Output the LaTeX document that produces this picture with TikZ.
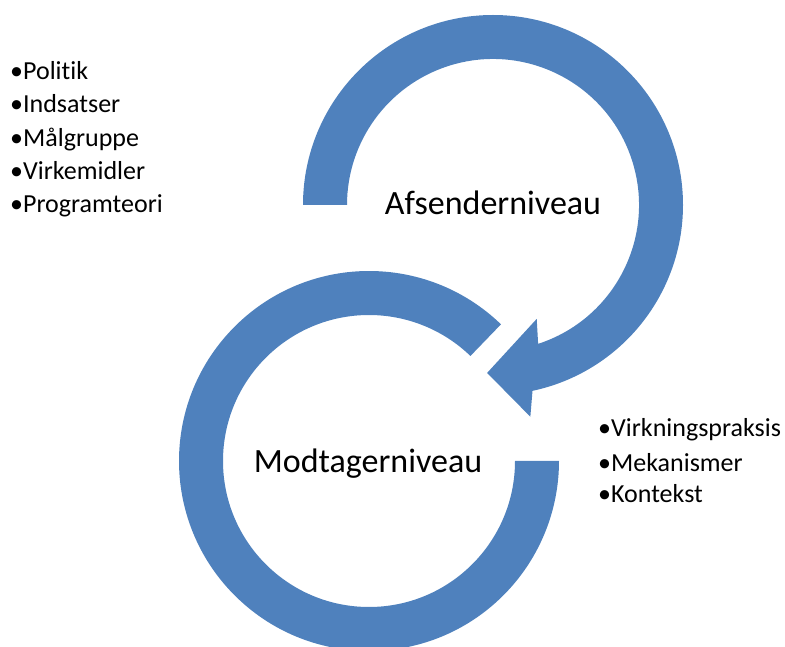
\documentclass[tikz,border=0pt]{standalone}
\usepackage{fontspec}
\setmainfont{Carlito}[Ligatures=NoCommon]
\usepackage{xcolor}
\definecolor{ringblaa}{RGB}{79,129,189}
\usetikzlibrary{calc}

\begin{document}
\begin{tikzpicture}[x=1pt, y=1pt,
    ring/.style={fill=ringblaa, draw=none},
    niveau/.style={font=\fontsize{34}{40}\selectfont, inner sep=0pt, anchor=base},
    punkt/.style={font=\fontsize{26}{31}\selectfont, inner sep=0pt, anchor=base west}]
    \useasboundingbox (0,0) rectangle (785,646);
    \clip (0,0) rectangle (785,646);

    % Centre for de to ringe
    \coordinate (ctop) at (493,441);
    \coordinate (cbund) at (369,185);

    % Oeverste ring med pil
    \fill[ring] ($(ctop)+(180:190)$) arc[start angle=180, end angle=-78, radius=190]
        -- ($(ctop)+(-80:215)$) -- ($(ctop)+(-92:168)$) -- ($(ctop)+(-69:122)$)
        -- ($(ctop)+(-72:146)$) arc[start angle=-72, end angle=180, radius=146] -- cycle;

    % Nederste ring
    \fill[ring] ($(cbund)+(46:190)$) arc[start angle=46, end angle=360, radius=190]
        -- ($(cbund)+(0:146)$) arc[start angle=360, end angle=46, radius=146] -- cycle;

    % Niveauer
    \node[niveau] (afsender) at (493,431) {Afsenderniveau};
    \node[niveau] (modtager) at (368,173) {Modtagerniveau};

    % Punkter til venstre
    \node[punkt] (politik) at (10,566) {•Politik};
    \node[punkt] (indsatser) at (10,533) {•Indsatser};
    \node[punkt] (maalgruppe) at (10,499) {•Målgruppe};
    \node[punkt] (virkemidler) at (10,466) {•Virkemidler};
    \node[punkt] (programteori) at (10,433) {•Programteori};

    % Punkter til hoejre
    \node[punkt] (virkning) at (598,209) {•Virkningspraksis};
    \node[punkt] (mekanismer) at (598,174) {•Mekanismer};
    \node[punkt] (kontekst) at (598,143) {•Kontekst};
\end{tikzpicture}
\end{document}
